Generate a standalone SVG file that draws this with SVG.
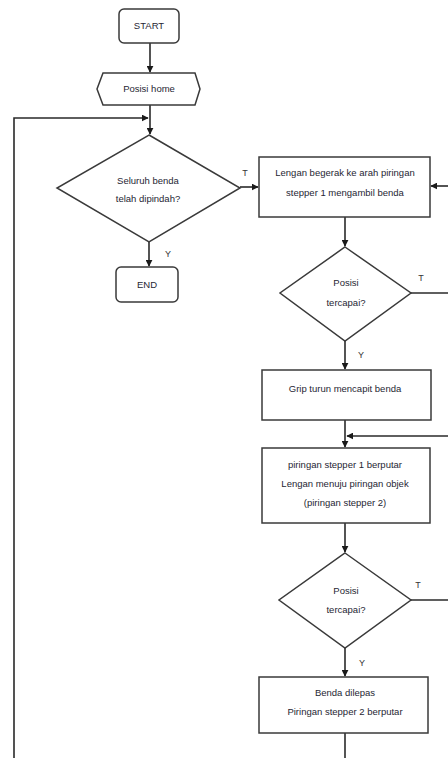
<svg xmlns="http://www.w3.org/2000/svg" width="448" height="758" viewBox="0 0 448 758">
<style>
.shape{fill:#fff;stroke:#3a3a3a;stroke-width:1.5}
.line{fill:none;stroke:#2a2a2a;stroke-width:1.6}
.t{font-family:"Liberation Sans",Arial,sans-serif;font-size:9.5px;fill:#262633;text-anchor:middle}
.lbl{font-family:"Liberation Sans",Arial,sans-serif;font-size:9px;fill:#333;text-anchor:middle}
</style>
<defs>
<marker id="ah" viewBox="0 0 10 10" refX="9" refY="5" markerWidth="7" markerHeight="7" markerUnits="userSpaceOnUse" orient="auto">
<path d="M0,0 L10,5 L0,10 z" fill="#1a1a1a"/>
</marker>
</defs>
<rect width="448" height="758" fill="#fff"/>
<g id="connectors">
<line class="line" x1="150" y1="43" x2="150" y2="72" marker-end="url(#ah)"/>
<line class="line" x1="150" y1="105" x2="150" y2="134" marker-end="url(#ah)"/>
<polyline class="line" points="345,733 345,758"/>
<polyline class="line" points="14,758 14,118 148,118" marker-end="url(#ah)"/>
<line class="line" x1="240" y1="187" x2="258" y2="187" marker-end="url(#ah)"/>
<line class="line" x1="149" y1="242" x2="149" y2="266" marker-end="url(#ah)"/>
<line class="line" x1="448" y1="186" x2="431" y2="186" marker-end="url(#ah)"/>
<line class="line" x1="345" y1="217" x2="345" y2="246" marker-end="url(#ah)"/>
<line class="line" x1="411" y1="293" x2="448" y2="293"/>
<line class="line" x1="345" y1="341" x2="345" y2="369" marker-end="url(#ah)"/>
<line class="line" x1="345" y1="420" x2="345" y2="447" marker-end="url(#ah)"/>
<line class="line" x1="448" y1="436" x2="347" y2="436" marker-end="url(#ah)"/>
<line class="line" x1="345" y1="523" x2="345" y2="552" marker-end="url(#ah)"/>
<line class="line" x1="411" y1="600" x2="448" y2="600"/>
<line class="line" x1="345" y1="648" x2="345" y2="676" marker-end="url(#ah)"/>
<text class="lbl" x="245" y="176">T</text>
<text class="lbl" x="168" y="257">Y</text>
<text class="lbl" x="421" y="281">T</text>
<text class="lbl" x="361" y="358">Y</text>
<text class="lbl" x="418" y="588">T</text>
<text class="lbl" x="362" y="666">Y</text>
</g>
<g id="start">
<rect class="shape" x="119" y="9" width="60" height="34" rx="5"/>
<text class="t" x="149" y="29">START</text>
</g>
<g id="posisi-home">
<polygon class="shape" points="103,73 195,73 200,89 195,105 103,105 97,89"/>
<text class="t" x="149" y="92">Posisi home</text>
</g>
<g id="seluruh-benda">
<polygon class="shape" points="149,135 240,188 149,242 57,188"/>
<text class="t" x="148" y="184">Seluruh benda</text>
<text class="t" x="148" y="202">telah dipindah?</text>
</g>
<g id="end">
<rect class="shape" x="116" y="267" width="62" height="35" rx="5"/>
<text class="t" x="147" y="288">END</text>
</g>
<g id="lengan-begerak">
<rect class="shape" x="259" y="157" width="171" height="60"/>
<text class="t" x="345" y="176">Lengan begerak ke arah piringan</text>
<text class="t" x="345" y="196">stepper 1 mengambil  benda</text>
</g>
<g id="posisi-1">
<polygon class="shape" points="345,247 411,293 345,341 280,293"/>
<text class="t" x="346" y="286">Posisi</text>
<text class="t" x="346" y="306">tercapai?</text>
</g>
<g id="grip">
<rect class="shape" x="262" y="370" width="169" height="50"/>
<text class="t" x="345" y="392">Grip turun mencapit  benda</text>
</g>
<g id="piringan-berputar">
<rect class="shape" x="262" y="448" width="168" height="75"/>
<text class="t" x="345" y="468">piringan stepper  1 berputar</text>
<text class="t" x="345" y="487">Lengan menuju  piringan  objek</text>
<text class="t" x="345" y="506">(piringan stepper  2)</text>
</g>
<g id="posisi-2">
<polygon class="shape" points="345,553 411,600 345,648 279,600"/>
<text class="t" x="346" y="594">Posisi</text>
<text class="t" x="346" y="613">tercapai?</text>
</g>
<g id="benda-dilepas">
<rect class="shape" x="259" y="677" width="169" height="56"/>
<text class="t" x="345" y="696">Benda  dilepas</text>
<text class="t" x="345" y="715">Piringan stepper  2 berputar</text>
</g>
</svg>
